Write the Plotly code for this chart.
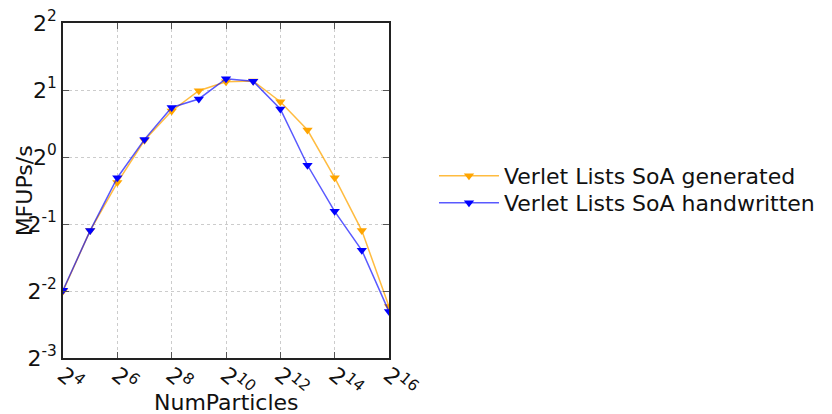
import numpy as np
import plotly.graph_objects as go

# Number of particles (powers of two) and measured throughput in MFUPs/s
num_particles = [2 ** k for k in range(4, 17)]
generated = [0.25, 0.467, 0.768, 1.189, 1.61, 1.986, 2.18, 2.195, 1.771, 1.322, 0.807, 0.467, 0.213]
handwritten = [0.252, 0.467, 0.807, 1.20, 1.67, 1.823, 2.249, 2.188, 1.643, 0.918, 0.570, 0.381, 0.202]

x_tick_exps = [4, 6, 8, 10, 12, 14, 16]
y_tick_exps = [-3, -2, -1, 0, 1, 2]

FONT = "DejaVu Sans"
FS = 22

fig = go.Figure()
fig.add_trace(go.Scatter(
    x=num_particles, y=generated, mode="lines+markers",
    name="Verlet Lists SoA generated", legend="legend", showlegend=True,
    line=dict(color="rgba(255,165,0,0.75)", width=1.5),
    marker=dict(symbol="triangle-down", size=9, color="#FFA500"),
))
fig.add_trace(go.Scatter(
    x=num_particles, y=handwritten, mode="lines+markers",
    name="Verlet Lists SoA handwritten", legend="legend2", showlegend=True,
    line=dict(color="rgba(0,0,255,0.65)", width=1.5),
    marker=dict(symbol="triangle-down", size=9, color="#0000FF"),
))

axis_common = dict(
    type="log", showline=True, linecolor="#222", linewidth=1.5, mirror="ticks",
    ticks="inside", ticklen=6, tickwidth=1, tickcolor="#555",
    showgrid=True, gridcolor="#cccccc", griddash="dot", gridwidth=1,
    zeroline=False, automargin=False,
    tickfont=dict(family=FONT, size=FS, color="#111"),
)

fig.update_xaxes(
    **axis_common,
    range=[np.log10(2 ** 4), np.log10(2 ** 16)],
    tickvals=[2 ** e for e in x_tick_exps],
    ticktext=[f"2<sup>{e}</sup>" for e in x_tick_exps],
    tickangle=40, ticklabelstandoff=-6,
)
fig.update_yaxes(
    **axis_common,
    range=[np.log10(2 ** -3), np.log10(2 ** 2)],
    tickvals=[2.0 ** e for e in y_tick_exps],
    ticktext=[f"2<sup>{e}</sup>" for e in y_tick_exps],
)

fig.add_annotation(
    text="NumParticles", xref="paper", yref="paper", x=0.5, y=-0.134,
    xanchor="center", yanchor="middle", showarrow=False,
    font=dict(family=FONT, size=FS, color="#111"),
)
fig.add_annotation(
    text="MFUPs/s", xref="paper", yref="paper", x=-0.117, y=0.5,
    xanchor="center", yanchor="middle", textangle=-90, showarrow=False,
    font=dict(family=FONT, size=FS, color="#111"),
)

legend_common = dict(
    x=1.138, xanchor="left", yanchor="middle",
    font=dict(family=FONT, size=FS, color="#111"),
    bgcolor="rgba(0,0,0,0)", itemwidth=60, visible=True,
)

fig.update_layout(
    width=832, height=414,
    margin=dict(l=63, r=443, t=23, b=56),
    plot_bgcolor="white", paper_bgcolor="white",
    font=dict(family=FONT, color="#111"),
    showlegend=True,
    legend=dict(**legend_common, y=(358 - 176) / 335),
    legend2=dict(**legend_common, y=(358 - 203) / 335),
)

fig.write_html("out.html")
